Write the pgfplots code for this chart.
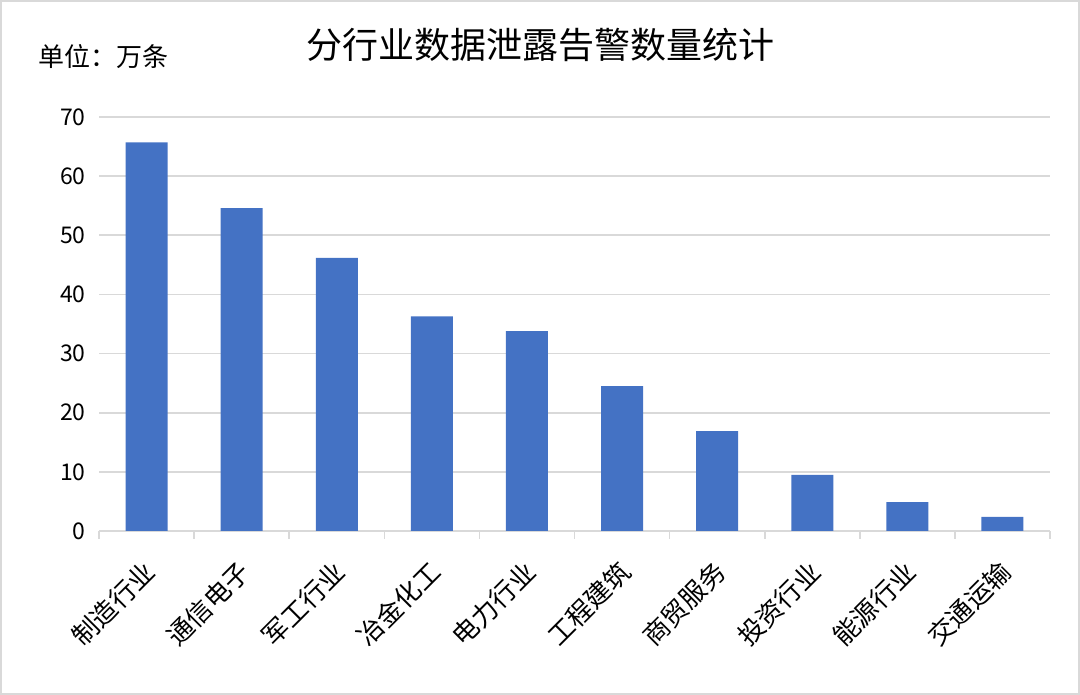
\documentclass[border=0pt]{standalone}
\usepackage{pgfplots}
\pgfplotsset{compat=1.18}
\usepackage{fontspec}
\setmainfont{Noto Sans CJK SC}
\definecolor{barblue}{HTML}{4472C4}
\definecolor{gridgray}{HTML}{D9D9D9}
\definecolor{bordergray}{HTML}{D9D9D9}
\begin{document}
\begin{tikzpicture}
\useasboundingbox (0,0) rectangle (540pt,347.5pt);
\draw[bordergray, line width=1pt] (0.5pt,0.5pt) rectangle (539.5pt,347pt);
\node[font=\fontsize{18pt}{20pt}\selectfont] at (270pt,325pt) {分行业数据泄露告警数量统计};
\node[font=\fontsize{13pt}{15pt}\selectfont, anchor=west, inner sep=0pt] at (19pt,319pt) {单位：万条};
\begin{axis}[
  at={(49.5pt,82pt)}, anchor=south west,
  scale only axis, width=475.5pt, height=207pt,
  xmin=-0.5, xmax=9.5, ymin=0, ymax=70,
  ytick={0,10,...,70},
  xtick={0,...,9},
  xticklabels={制造行业,通信电子,军工行业,冶金化工,电力行业,工程建筑,商贸服务,投资行业,能源行业,交通运输},
  minor xtick={-0.5,0.5,...,9.5},
  major x tick style={draw=none},
  minor x tick style={gridgray, line width=0.8pt},
  minor tick length=4pt,
  tick align=outside,
  axis x line=bottom, axis y line=left,
  axis line style={-},
  x axis line style={gridgray, line width=0.8pt},
  y axis line style={draw=none},
  ytick style={draw=none},
  ymajorgrids, grid style={gridgray, line width=0.8pt},
  /pgf/number format/assume math mode=true,
  yticklabel style={font=\fontsize{11.5pt}{13pt}\selectfont, xshift=-1pt},
  xticklabel style={font=\fontsize{13pt}{15pt}\selectfont, rotate=45, anchor=east, xshift=-5pt, yshift=-11pt},
  ybar, bar width=21pt, bar shift=0pt,
]
\addplot[fill=barblue, draw=none] coordinates {
(0,65.7) (1,54.6) (2,46.2) (3,36.3) (4,33.8) (5,24.5) (6,16.9) (7,9.5) (8,4.9) (9,2.4)
};
\end{axis}
\end{tikzpicture}
\end{document}
